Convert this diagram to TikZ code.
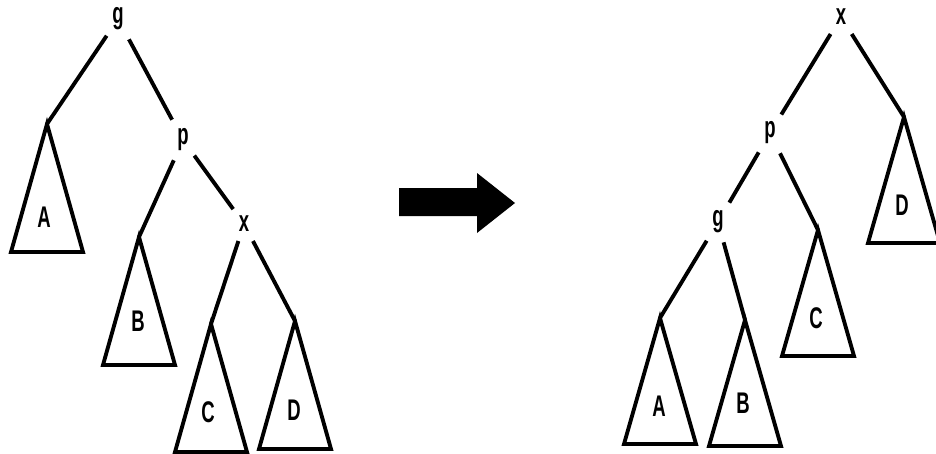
\documentclass[tikz,border=0pt]{standalone}
\usepackage{fontspec}
\setsansfont{Liberation Sans}
\usetikzlibrary{calc}

\begin{document}
\begin{tikzpicture}[
  x=0.02cm, y=-0.02cm,
  lbl/.style={font=\sffamily\bfseries\fontsize{17}{17}\selectfont, xscale=0.62, inner sep=1pt},
  knot/.style={lbl, inner sep=5pt},
  edge/.style={line width=2.2pt},
  tri/.style={line width=2.2pt, line join=miter}
]
  \useasboundingbox (0,0) rectangle (936,453);

  % left tree: g -> p -> x
  \node[knot] (lg) at (118,19) {g};
  \node[knot] (lp) at (183,140) {p};
  \node[knot] (lx) at (244,224) {x};
  \foreach \n/\x/\y in {lA/47/124, lB/139/237, lC/211/324, lD/295/321} {
    \coordinate (\n) at (\x,\y);
    \draw[tri] (\n) -- ++(-36,128) -- ++(72,0) -- cycle;
  }
  \node[lbl] at ($(lA)+(-3,93)$) {A};
  \node[lbl] at ($(lB)+(-1,84)$) {B};
  \node[lbl] at ($(lC)+(-3,88)$) {C};
  \node[lbl] at ($(lD)+(-1,89)$) {D};
  \draw[edge] (lg) -- (lA);
  \draw[edge] (lg) -- (lp);
  \draw[edge] (lp) -- (lB);
  \draw[edge] (lp) -- (lx);
  \draw[edge] (lx) -- (lC);
  \draw[edge] (lx) -- (lD);

  % arrow
  \fill (399,188) -- (477,188) -- (477,173) -- (515,203) -- (477,233)
        -- (477,216) -- (399,216) -- cycle;

  % right tree: x -> p -> g
  \node[knot] (rx) at (841,17) {x};
  \node[knot] (rp) at (770,133) {p};
  \node[knot] (rg) at (718,222) {g};
  \foreach \n/\x/\y in {rA/660/318, rB/745/320, rC/818/230, rD/904/117} {
    \coordinate (\n) at (\x,\y);
    \draw[tri] (\n) -- ++(-36,126) -- ++(72,0) -- cycle;
  }
  \node[lbl] at ($(rA)+(-1,88)$) {A};
  \node[lbl] at ($(rB)+(-2,83)$) {B};
  \node[lbl] at ($(rC)+(-2,88)$) {C};
  \node[lbl] at ($(rD)+(-2,88)$) {D};
  \draw[edge] (rx) -- (rp);
  \draw[edge] (rx) -- (rD);
  \draw[edge] (rp) -- (rg);
  \draw[edge] (rp) -- (rC);
  \draw[edge] (rg) -- (rA);
  \draw[edge] (rg) -- (rB);
\end{tikzpicture}
\end{document}
